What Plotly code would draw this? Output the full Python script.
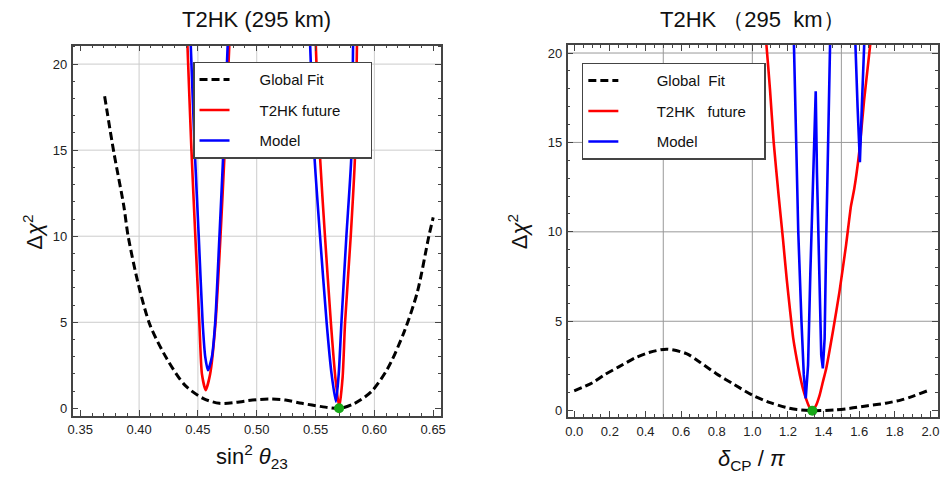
import plotly.graph_objects as go

# ---------------- data: left panel (sin^2 theta23) ----------------
l_gf_x = [0.3707, 0.3786, 0.387, 0.3907, 0.3996, 0.4094, 0.4235, 0.4389, 0.4543, 0.4683, 0.4823,
          0.4964, 0.5104, 0.5244, 0.5384, 0.5552, 0.5707, 0.5833, 0.5973, 0.6113, 0.6253, 0.6365,
          0.6463, 0.65]
l_gf_y = [18.13, 14.85, 11.76, 10.0, 7.14, 4.82, 2.89, 1.35, 0.58, 0.29, 0.35,
          0.48, 0.54, 0.48, 0.29, 0.10, 0.0, 0.29, 0.96, 2.31, 4.44, 6.75,
          10.0, 11.09]

l_red_x = [0.4406, 0.4411, 0.4445, 0.4478, 0.4512, 0.4534, 0.4566, 0.4604, 0.4650, 0.4692, 0.4728, 0.4767, 0.4773,
           None,
           0.5495, 0.5502, 0.5538, 0.5580, 0.5630, 0.5668, 0.5701, 0.5730, 0.5751, 0.5799, 0.5835, 0.5852, 0.5855]
l_red_y = [22.0, 21.1, 15.0, 10.0, 5.0, 2.0, 1.06, 2.0, 5.0, 10.0, 15.0, 21.1, 22.0,
           None,
           22.0, 21.1, 14.6, 10.0, 5.0, 1.8, 0.05, 1.8, 5.0, 10.0, 14.6, 21.1, 22.0]

l_blue_x = [0.4434, 0.4439, 0.4473, 0.4507, 0.4540, 0.4562, 0.4585, 0.4619, 0.4647, 0.4683, 0.4717, 0.4753, 0.4758,
            None,
            0.5448, 0.5454, 0.5491, 0.5538, 0.5594, 0.5636, 0.5673, 0.5697, 0.5720, 0.5762, 0.5804, 0.5819, 0.5821]
l_blue_y = [22.0, 21.1, 15.0, 10.0, 5.0, 3.0, 2.21, 3.0, 5.0, 10.0, 15.0, 21.1, 22.0,
            None,
            22.0, 21.1, 14.6, 10.0, 5.0, 2.0, 0.39, 2.0, 5.0, 10.0, 14.6, 21.1, 22.0]

l_best_x = [0.570]
l_best_y = [0.0]

# ---------------- data: right panel (delta_CP / pi) ----------------
r_gf_x = [0.0, 0.1, 0.167, 0.25, 0.352, 0.42, 0.519, 0.63, 0.7, 0.796, 0.9, 1.0, 1.1, 1.185, 1.25,
          1.333, 1.463, 1.55, 1.648, 1.75, 1.833, 1.9, 1.98]
r_gf_y = [1.11, 1.55, 1.99, 2.45, 3.0, 3.25, 3.44, 3.19, 2.75, 2.08, 1.45, 0.87, 0.45, 0.19, 0.06,
          0.0, 0.04, 0.13, 0.28, 0.42, 0.59, 0.8, 1.1]

r_red_x = [1.072, 1.078, 1.099, 1.12, 1.148, 1.172, 1.193, 1.212, 1.23, 1.25, 1.267, 1.285, 1.304, 1.32,
           1.337, 1.358, 1.378, 1.396, 1.415, 1.452, 1.489, 1.526, 1.554, 1.572, 1.6, 1.628, 1.665, 1.668]
r_red_y = [21.2, 20.6, 18.0, 15.0, 12.0, 9.6, 7.37, 5.6, 4.03, 2.85, 1.98, 1.2, 0.6, 0.2,
           0.03, 0.3, 0.87, 1.6, 2.36, 4.40, 6.63, 9.23, 11.45, 12.38, 14.43, 17.4, 20.74, 21.2]

r_blue_x = [1.232, 1.233, 1.245, 1.258, 1.276, 1.289, 1.300, 1.313, 1.326, 1.341, 1.356, 1.363, 1.374, 1.387,
            1.396, 1.406, 1.415, 1.425, 1.437, 1.438,
            None,
            1.577, 1.578, 1.591, 1.604, 1.615, 1.630, 1.631]
r_blue_y = [21.2, 20.7, 15.0, 10.0, 5.0, 2.0, 0.69, 2.54, 7.76, 13.3, 17.86, 13.3, 7.76, 3.1,
            2.36, 4.03, 9.6, 15.2, 20.74, 21.2,
            None,
            21.2, 20.74, 17.0, 13.9, 17.0, 20.74, 21.2]

r_best_x = [1.337]
r_best_y = [0.0]

# ---------------- axis ticks / grids / labels ----------------
l_xgrid = [0.40, 0.45, 0.50, 0.55, 0.60]
l_ygrid = [5, 10, 15, 20]
r_xgrid = [0.5, 1.0, 1.5]
r_ygrid = [5, 10, 15, 20]

NB = "\u00a0"
names_left = ["Global Fit", "T2HK future", "Model"]
names_right = ["Global" + NB * 2 + "Fit", "T2HK" + NB * 3 + "future", "Model"]

FONT = "Liberation Sans, Arial, Helvetica, sans-serif"
PAD_L = NB * 6
PAD_R = NB * 8
TAIL_L = NB * 6
TAIL_R = NB * 3

fig = go.Figure()

# left traces
fig.add_trace(go.Scatter(x=l_gf_x, y=l_gf_y, mode="lines", name=PAD_L + names_left[0],
                         line=dict(color="black", width=3, dash="8px,4px", shape="spline", smoothing=0.8),
                         xaxis="x", yaxis="y", legend="legend", legendgroup="a1"))
fig.add_trace(go.Scatter(x=l_red_x, y=l_red_y, mode="lines", name=PAD_L + names_left[1] + TAIL_L,
                         line=dict(color="#ff0000", width=2.6, shape="spline", smoothing=0.6),
                         xaxis="x", yaxis="y", legend="legend", legendgroup="a2"))
fig.add_trace(go.Scatter(x=l_blue_x, y=l_blue_y, mode="lines", name=PAD_L + names_left[2],
                         line=dict(color="#0000ff", width=2.6, shape="spline", smoothing=0.6),
                         xaxis="x", yaxis="y", legend="legend", legendgroup="a3"))
fig.add_trace(go.Scatter(x=l_best_x, y=l_best_y, mode="markers", showlegend=False,
                         marker=dict(color="#17a817", size=10),
                         xaxis="x", yaxis="y"))

# right traces
fig.add_trace(go.Scatter(x=r_gf_x, y=r_gf_y, mode="lines", name=PAD_R + names_right[0],
                         line=dict(color="black", width=3, dash="8px,4px", shape="spline", smoothing=0.8),
                         xaxis="x2", yaxis="y2", legend="legend2", legendgroup="b1"))
fig.add_trace(go.Scatter(x=r_red_x, y=r_red_y, mode="lines", name=PAD_R + names_right[1] + TAIL_R,
                         line=dict(color="#ff0000", width=2.6, shape="spline", smoothing=0.5),
                         xaxis="x2", yaxis="y2", legend="legend2", legendgroup="b2"))
fig.add_trace(go.Scatter(x=r_blue_x, y=r_blue_y, mode="lines", name=PAD_R + names_right[2],
                         line=dict(color="#0000ff", width=2.6),
                         xaxis="x2", yaxis="y2", legend="legend2", legendgroup="b3"))
fig.add_trace(go.Scatter(x=r_best_x, y=r_best_y, mode="markers", showlegend=False,
                         marker=dict(color="#17a817", size=10),
                         xaxis="x2", yaxis="y2"))

axis_common = dict(showline=True, linecolor="#444444", linewidth=1.5, mirror="allticks",
                   ticks="inside", ticklen=6, tickwidth=1, tickcolor="#444444",
                   showgrid=False, zeroline=False,
                   tickfont=dict(family=FONT, size=13, color="#222222"))

fig.update_layout(
    width=944, height=479,
    margin=dict(l=0, r=0, t=0, b=0),
    paper_bgcolor="white", plot_bgcolor="white",
    font=dict(family=FONT, color="#111111"),
    xaxis=dict(domain=[0.0724, 0.4669], range=[0.3435, 0.6567], tick0=0.35, dtick=0.05,
               tickformat=".2f", anchor="y", ticklabelstandoff=1,
               minor=dict(tick0=0.35, dtick=0.01, ticks="inside", ticklen=3, tickcolor="#444444"),
               **axis_common),
    yaxis=dict(domain=[0.1288, 0.9046], range=[-0.42, 21.08], tick0=0, dtick=5, anchor="x",
               ticklabelstandoff=1,
               minor=dict(tick0=0, dtick=1, ticks="inside", ticklen=3, tickcolor="#444444"),
               **axis_common),
    xaxis2=dict(domain=[0.6024, 0.999], range=[-0.037, 2.043], tick0=0, dtick=0.2,
                tickformat=".1f", anchor="y2", ticklabelstandoff=2,
                minor=dict(tick0=0, dtick=0.05, ticks="inside", ticklen=3, tickcolor="#444444"),
                **axis_common),
    yaxis2=dict(domain=[0.1267, 0.9061], range=[-0.33, 20.46], tick0=0, dtick=5, anchor="x2",
                ticklabelstandoff=1,
                minor=dict(tick0=0, dtick=1, ticks="inside", ticklen=3, tickcolor="#444444"),
                **axis_common),
    legend=dict(x=0.2013, y=0.8706, xanchor="left", yanchor="top", bgcolor="white",
                bordercolor="#444444", borderwidth=1.5, tracegroupgap=8, itemwidth=30,
                font=dict(family=FONT, size=15, color="#111111")),
    legend2=dict(x=0.6176, y=0.8685, xanchor="left", yanchor="top", bgcolor="white",
                 bordercolor="#444444", borderwidth=1.5, tracegroupgap=8, itemwidth=30,
                 font=dict(family=FONT, size=15, color="#111111")),
)

shapes = []
for v in l_xgrid:
    shapes.append(dict(type="line", xref="x", yref="y domain", x0=v, x1=v, y0=0, y1=1,
                       line=dict(color="#cccccc", width=1), layer="below"))
for v in l_ygrid:
    shapes.append(dict(type="line", xref="x domain", yref="y", x0=0, x1=1, y0=v, y1=v,
                       line=dict(color="#cccccc", width=1), layer="below"))
for v in r_xgrid:
    shapes.append(dict(type="line", xref="x2", yref="y2 domain", x0=v, x1=v, y0=0, y1=1,
                       line=dict(color="#999999", width=1), layer="below"))
for v in r_ygrid:
    shapes.append(dict(type="line", xref="x2 domain", yref="y2", x0=0, x1=1, y0=v, y1=v,
                       line=dict(color="#999999", width=1), layer="below"))
fig.update_layout(shapes=shapes)

ann_font = dict(family=FONT, size=22, color="#111111")
fig.update_layout(annotations=[
    dict(text="T2HK (295 km)", x=0.2696, y=(479 - 20) / 479, xref="paper", yref="paper",
         xanchor="center", yanchor="middle", showarrow=False, font=ann_font),
    dict(text="T2HK \uff08295" + NB * 2 + "km\uff09", x=0.8005, y=(479 - 20) / 479, xref="paper", yref="paper",
         xanchor="center", yanchor="middle", showarrow=False, font=ann_font),
    dict(text="sin<sup>2</sup> <i>θ</i><sub>23</sub>", x=0.2648, y=(479 - 458) / 479,
         xref="paper", yref="paper", xanchor="center", yanchor="middle", showarrow=False, font=ann_font),
    dict(text="<i>δ</i><sub>CP</sub> / <i>π</i>", x=0.7998, y=(479 - 462) / 479,
         xref="paper", yref="paper", xanchor="center", yanchor="middle", showarrow=False, font=ann_font),
    dict(text="Δ<i>χ</i><sup>2</sup>", x=28 / 944, y=(479 - 233) / 479, textangle=-90,
         xref="paper", yref="paper", xanchor="center", yanchor="middle", showarrow=False, font=ann_font),
    dict(text="Δ<i>χ</i><sup>2</sup>", x=518.7 / 944, y=(479 - 233) / 479, textangle=-90,
         xref="paper", yref="paper", xanchor="center", yanchor="middle", showarrow=False, font=ann_font),
])

fig.write_html("out.html")
